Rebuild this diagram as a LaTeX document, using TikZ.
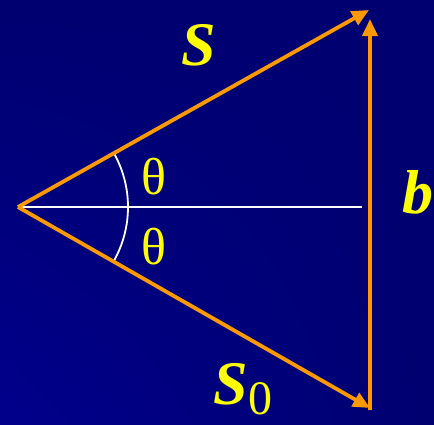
\documentclass[tikz,border=0pt]{standalone}
\usepackage{fontspec}
\setmainfont{Liberation Serif}
\usepackage{xcolor}
\usepackage{tikz}
\usetikzlibrary{arrows.meta,shadings}
\definecolor{slidebg}{RGB}{0,0,112}
\definecolor{slidebgb}{RGB}{0,0,140}
\definecolor{vecorange}{RGB}{255,153,0}
\definecolor{labyellow}{RGB}{255,255,0}

\begin{document}
\begin{tikzpicture}[x=1pt,y=-1pt,
    vec/.style={line width=3.8pt,vecorange,-{Triangle[length=17pt,width=15pt]}},
    lab/.style={labyellow,font=\fontsize{62}{66}\selectfont\bfseries\itshape},
    ang/.style={labyellow,font=\fontsize{52}{56}\selectfont}]
    % background
        \useasboundingbox (0,0) rectangle (434,424);
        \shade[upper right=slidebg,lower left=slidebgb,upper left=slidebg,lower right=slidebg] (0,0) rectangle (434,424);
    % points
        \coordinate (O) at (18,207);
        \coordinate (P) at (369,10);
        \coordinate (Q) at (370,408);
        \coordinate (R) at (370,19);
        \coordinate (M) at (362,207);
    % axis and angle
        \draw[line width=2pt,white] (O)--(M);
        \draw[line width=1.8pt,white] ([shift={(-29.5:110)}]O) arc[start angle=-29.5,end angle=29.5,radius=110];
    % vectors
        \draw[vec] (O)--(P);
        \draw[vec] (O)--(Q);
        \draw[vec,line cap=rect] (Q)--(R);
    % labels
        \node[lab] (s) at (199,45){S};
        \node[lab] (b) at (418,192){b};
        \node[lab] (s0) at (243,389){S\textmd{\upshape\fontsize{48}{52}\selectfont\raisebox{-10pt}{0}}};
        \node[ang] (t1) at (154,177){θ};
        \node[ang] (t2) at (154,247){θ};
\end{tikzpicture}
\end{document}
